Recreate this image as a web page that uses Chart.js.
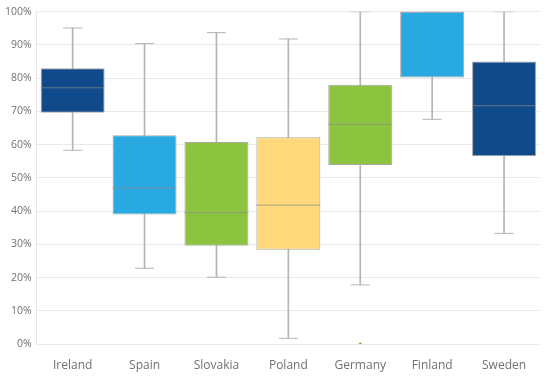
<!DOCTYPE html>
<html><head><meta charset="utf-8">
<script src="https://cdn.jsdelivr.net/npm/chart.js@4/dist/chart.umd.min.js"></script>
<style>html,body{margin:0;padding:0;background:#fff;overflow:hidden}canvas{display:block}</style>
</head><body><canvas id="c" width="548" height="380" style="width:548px;height:380px"></canvas>
<script>
const categories = ["Ireland","Spain","Slovakia","Poland","Germany","Finland","Sweden"];
const minValues    = [58.3, 22.8, 20.1, 1.7, 17.8, 67.6, 33.3];
const q1Values     = [69.6, 39.0, 29.6, 28.4, 53.9, 80.2, 56.5];
const medianValues = [77.1, 47.0, 39.5, 41.8, 66.1, 100, 71.7];
const q3Values     = [83.0, 62.8, 60.8, 62.2, 78.0, 100, 85.0];
const maxValues    = [95.1, 90.4, 93.7, 91.8, 100, 100, 100];
const outlierValues = [null, null, null, null, 0, null, null];
const yTicks = [0,10,20,30,40,50,60,70,80,90,100];
const boxColors = ["#114a8b","#29a9e1","#8cc43f","#ffd97b","#8cc43f","#29a9e1","#114a8b"];

const grey = "#b4b4b4";
new Chart(document.getElementById('c'), {
  type: 'bar',
  data: {
    labels: categories,
    datasets: [
      { type:'line', label:'median', data: medianValues, showLine:false, pointStyle:'line',
        pointRadius:32, pointHoverRadius:32, borderColor:'rgba(140,140,140,0.7)', pointBorderWidth:1, borderWidth:1, order:0 },
      { type:'line', label:'outlier', data: outlierValues, showLine:false, pointStyle:'circle',
        pointRadius:1.5, backgroundColor:'#8a9a3a', borderColor:'#8a9a3a', borderWidth:0, order:0 },
      { type:'bar', label:'box', data: q1Values.map((v,i)=>[v,q3Values[i]]), backgroundColor: boxColors,
        borderColor:'#a8a8a8', borderWidth:1, borderSkipped:false, barPercentage:0.89, categoryPercentage:1, grouped:false, order:1 },
      { type:'line', label:'capMax', data: maxValues, showLine:false, pointStyle:'line',
        pointRadius:9.5, borderColor:grey, pointBorderWidth:1, borderWidth:1, order:2 },
      { type:'line', label:'capMin', data: minValues, showLine:false, pointStyle:'line',
        pointRadius:9.5, borderColor:grey, pointBorderWidth:1, borderWidth:1, order:2 },
      { type:'bar', label:'whisker', data: minValues.map((v,i)=>[v,maxValues[i]]), backgroundColor:grey,
        borderWidth:0, barThickness:1, grouped:false, order:3 }
    ]
  },
  options: {
    responsive:false, animation:false, devicePixelRatio:1,
    layout:{ autoPadding:false, padding:{ left:0, right:8, top:11.7, bottom:0 } },
    plugins:{ legend:{display:false}, tooltip:{enabled:false} },
    scales:{
      x:{ grid:{display:false, drawTicks:false}, border:{display:false},
          afterFit: s => { s.height = 36; },
          ticks:{ color:'#707070', padding:14, font:{family:'Open Sans', size:12} } },
      y:{ min:0, max:100, afterBuildTicks: s => { s.ticks = yTicks.map(v=>({value:v})); },
          grid:{ color:'#e8e8e8', lineWidth:1, drawTicks:false }, border:{display:true, color:'#e8e8e8'},
          ticks:{ color:'#707070', padding:5, font:{family:'Open Sans', size:10.5}, callback:v=>v+'%' } }
    }
  }
});
</script></body></html>
